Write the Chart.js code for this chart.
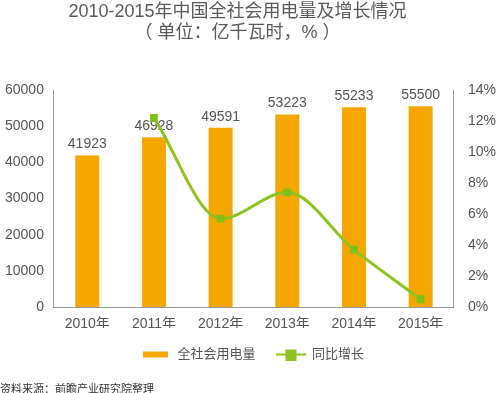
<!DOCTYPE html>
<html>
<head>
<meta charset="utf-8">
<script src="https://cdn.jsdelivr.net/npm/chart.js@4.4.0/dist/chart.umd.min.js"></script>
<style>
  html, body { margin: 0; padding: 0; background: #ffffff; }
  #wrap { position: relative; width: 499px; height: 393px; overflow: hidden; background: #ffffff; }
  #c { position: absolute; left: 0; top: 0; }
  .title { position: absolute; left: 0; width: 475px; text-align: center; color: #5a5a5a;
           font-family: 'Liberation Sans', 'Noto Sans CJK SC', sans-serif; font-size: 18px; line-height: 21px; white-space: nowrap; }
  #source { position: absolute; left: 0; top: 381px; font-family: 'Noto Sans CJK SC', sans-serif; font-size: 11px; color: #333; line-height: 14px; white-space: nowrap; }
</style>
</head>
<body>
<div id="wrap">
  <canvas id="c" width="499" height="393"></canvas>
  <div class="title" style="top:1px">2010-2015年中国全社会用电量及增长情况</div>
  <div class="title" style="top:22px">（ 单位：亿千瓦时，% ）</div>
  <div id="source">资料来源：前瞻产业研究院整理</div>
</div>
<script>
const categories = ['2010年', '2011年', '2012年', '2013年', '2014年', '2015年'];
const consumption = [41923, 46928, 49591, 53223, 55233, 55500];
const growth = [null, 12.2, 5.7, 7.4, 3.7, 0.5];
const leftTicks = [0, 10000, 20000, 30000, 40000, 50000, 60000];
const rightTicks = [0, 2, 4, 6, 8, 10, 12, 14];
const seriesNames = ['全社会用电量', '同比增长'];

const BAR_COLOR = '#F5A700';
const LINE_COLOR = '#8DC21F';
const FONT = "'Liberation Sans', 'Noto Sans CJK SC', sans-serif";

function legendImage(kind) {
  const cv = document.createElement('canvas');
  cv.width = 30; cv.height = 12;
  const g = cv.getContext('2d');
  if (kind === 'bar') {
    g.fillStyle = BAR_COLOR;
    g.fillRect(2, 3, 25, 6);
  } else {
    g.strokeStyle = LINE_COLOR;
    g.lineWidth = 2;
    g.beginPath(); g.moveTo(0, 6); g.lineTo(30, 6); g.stroke();
    g.fillStyle = LINE_COLOR;
    g.fillRect(10, 1, 11, 11);
  }
  return cv;
}
const legendImgs = [legendImage('bar'), legendImage('line')];

const barLabels = {
  id: 'barLabels',
  afterDatasetDraw(chart, args) {
    if (args.meta.type !== 'bar') return;
    const ctx = chart.ctx;
    ctx.save();
    ctx.font = '14px ' + FONT;
    ctx.fillStyle = '#555555';
    ctx.textAlign = 'center';
    ctx.textBaseline = 'bottom';
    args.meta.data.forEach((el, i) => {
      ctx.fillText(String(consumption[i]), el.x, el.y - 4);
    });
    ctx.restore();
  }
};

new Chart(document.getElementById('c'), {
  data: {
    labels: categories,
    datasets: [
      {
        type: 'line',
        label: seriesNames[1],
        data: growth,
        yAxisID: 'y1',
        borderColor: LINE_COLOR,
        backgroundColor: LINE_COLOR,
        borderWidth: 3,
        pointStyle: 'rect',
        pointRadius: 5.5,
        pointBackgroundColor: '#7FBF1A',
        pointBorderWidth: 0,
        cubicInterpolationMode: 'monotone',
        order: 0
      },
      {
        type: 'bar',
        label: seriesNames[0],
        data: consumption,
        yAxisID: 'y',
        backgroundColor: BAR_COLOR,
        categoryPercentage: 1,
        barPercentage: 0.36,
        order: 1
      }
    ]
  },
  options: {
    responsive: false,
    animation: false,
    devicePixelRatio: 1,
    layout: { padding: { top: 90, left: -5, right: -11, bottom: 22 } },
    scales: {
      x: {
        grid: { display: false, drawTicks: false },
        border: { display: true, color: '#999999', width: 1 },
        ticks: { color: '#555555', font: { size: 14, family: FONT }, padding: 9 },
        afterFit(scale) { scale.height = 21; }
      },
      y: {
        position: 'left',
        min: 0, max: 60000,
        afterBuildTicks(axis) { axis.ticks = leftTicks.map(v => ({ value: v })); },
        grid: { display: false, drawTicks: false },
        border: { display: true, color: '#999999', width: 1 },
        ticks: { color: '#555555', font: { size: 14, family: FONT }, padding: 10, callback: v => String(v) }
      },
      y1: {
        position: 'right',
        min: 0, max: 14,
        afterBuildTicks(axis) { axis.ticks = rightTicks.map(v => ({ value: v })); },
        grid: { display: false, drawTicks: false },
        border: { display: true, color: '#999999', width: 1 },
        ticks: { color: '#555555', font: { size: 14, family: FONT }, padding: 14, callback: v => v + '%' }
      }
    },
    plugins: {
      legend: {
        position: 'bottom',
        labels: {
          usePointStyle: true,
          pointStyleWidth: 30,
          padding: 20,
          color: '#555555',
          font: { size: 13, family: FONT },
          generateLabels(chart) {
            return [0, 1].map(k => ({
              text: seriesNames[k],
              pointStyle: legendImgs[k],
              fillStyle: k === 0 ? BAR_COLOR : LINE_COLOR,
              strokeStyle: k === 0 ? BAR_COLOR : LINE_COLOR,
              lineWidth: 0,
              hidden: false,
              datasetIndex: k === 0 ? 1 : 0,
              fontColor: '#555555'
            }));
          }
        }
      },
      title: { display: false },
      tooltip: { enabled: false }
    }
  },
  plugins: [barLabels]
});
</script>
</body>
</html>
